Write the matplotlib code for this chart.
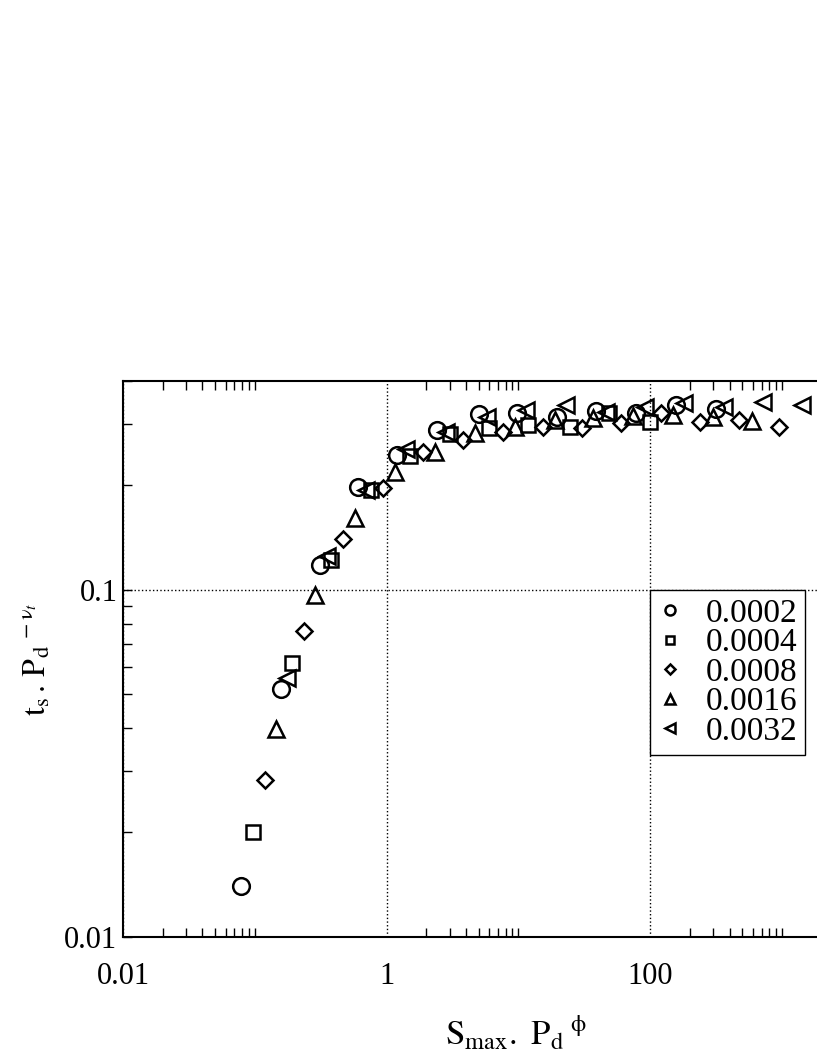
import matplotlib

matplotlib.use('Agg')
import matplotlib.pyplot as plt
import numpy as np
from matplotlib.ticker import FixedLocator, FuncFormatter, LogLocator, NullFormatter

plt.rcParams['font.family'] = 'serif'
plt.rcParams['font.serif'] = ['Liberation Serif', 'DejaVu Serif']
plt.rcParams['mathtext.fontset'] = 'stix'

# data (x = S_max.P_d^phi, y = t_s.P_d^-nu_t)
labels = ['0.0002', '0.0004', '0.0008', '0.0016', '0.0032']

x_0002 = [0.0785, 0.158, 0.313, 0.607, 1.20, 2.41, 5.02, 9.76, 19.6, 38.8, 78.0, 157, 316]
y_0002 = [0.0140, 0.0519, 0.118, 0.198, 0.245, 0.289, 0.321, 0.324, 0.315, 0.328, 0.324, 0.341, 0.332]

x_0004 = [0.0969, 0.191, 0.378, 0.762, 1.51, 3.03, 5.98, 11.8, 24.6, 48.7, 99.6]
y_0004 = [0.0200, 0.0616, 0.122, 0.194, 0.243, 0.282, 0.293, 0.299, 0.295, 0.324, 0.305]

x_0008 = [0.119, 0.236, 0.467, 0.940, 1.89, 3.80, 7.64, 15.4, 30.4, 60.0, 121, 239, 472, 948]
y_0008 = [0.0283, 0.0762, 0.140, 0.197, 0.250, 0.271, 0.285, 0.295, 0.293, 0.303, 0.324, 0.305, 0.309, 0.295]

x_0016 = [0.145, 0.287, 0.576, 1.16, 2.33, 4.69, 9.42, 19.0, 36.8, 74.1, 149, 299, 592]
y_0016 = [0.0398, 0.0968, 0.161, 0.219, 0.250, 0.283, 0.295, 0.309, 0.313, 0.317, 0.319, 0.315, 0.307]

x_0032 = [0.175, 0.353, 0.698, 1.40, 2.82, 5.78, 11.4, 23.0, 46.2, 91.4, 180, 363, 718, 1419]
y_0032 = [0.0558, 0.125, 0.194, 0.255, 0.285, 0.315, 0.330, 0.341, 0.326, 0.337, 0.346, 0.337, 0.348, 0.341]

xs = [x_0002, x_0004, x_0008, x_0016, x_0032]
ys = [y_0002, y_0004, y_0008, y_0016, y_0032]
markers = ['o', 's', 'D', '^', '<']
sizes = [12, 10.5, 8.5, 12, 12]

fig = plt.figure(figsize=(8.17, 10.58), dpi=100)
# axes run past the right edge of the figure, as in the reference
ax = fig.add_axes([0.1506, 0.1144, 0.968, 0.5255])

for x, y, m, s, lab in zip(xs, ys, markers, sizes, labels):
    ax.plot(x, y, linestyle='none', marker=m, ms=s, mfc='none', mec='black',
            mew=1.8, label=lab)

ax.set_xscale('log')
ax.set_yscale('log')
ax.set_xlim(0.01, 1e4)
ax.set_ylim(0.01, 0.4)

xmajor = [0.01, 1, 100]
ax.xaxis.set_major_locator(FixedLocator(xmajor))
ax.xaxis.set_minor_locator(FixedLocator([m * k for m in xmajor + [1e4] for k in range(2, 11)]))
ax.yaxis.set_major_locator(FixedLocator([0.01, 0.1]))
ax.yaxis.set_minor_locator(LogLocator(base=10, subs=np.arange(2, 10)))
fmt = FuncFormatter(lambda v, p: f'{v:g}')
ax.xaxis.set_major_formatter(fmt)
ax.yaxis.set_major_formatter(fmt)
ax.xaxis.set_minor_formatter(NullFormatter())
ax.yaxis.set_minor_formatter(NullFormatter())

ax.tick_params(which='both', direction='in', top=True, right=True, width=1, labelsize=22)
ax.tick_params(which='minor', length=6.5)
ax.tick_params(axis='x', which='major', length=0, pad=18)
ax.tick_params(axis='y', which='major', length=6.5, pad=4)

ax.grid(which='major', linestyle=':', color='black', linewidth=1)
for sp in ax.spines.values():
    sp.set_linewidth(1.5)

ax.set_xlabel(r'$\mathrm{S_{max}.\ P_d}^{\ \mathrm{\phi}}$', fontsize=25)
ax.set_ylabel(r'$\mathrm{t_s\,.\,P_d}^{\,-\mathrm{\nu}_t}$', fontsize=23)
ax.yaxis.set_label_coords((52 - 123) / (0.968 * 817), 0.5)
ax.xaxis.set_label_coords((516 - 123) / (0.968 * 817), -0.14)

leg = ax.legend(loc='upper left', bbox_to_anchor=(100, 0.1), bbox_transform=ax.transData,
                borderaxespad=0, fontsize=24, markerscale=0.6, fancybox=False,
                edgecolor='black', framealpha=1, handlelength=0.7, handletextpad=0.7,
                borderpad=0.25, labelspacing=-0.03)
leg.get_frame().set_linewidth(1)

fig.savefig('out.png', dpi=100)
plt.close()
